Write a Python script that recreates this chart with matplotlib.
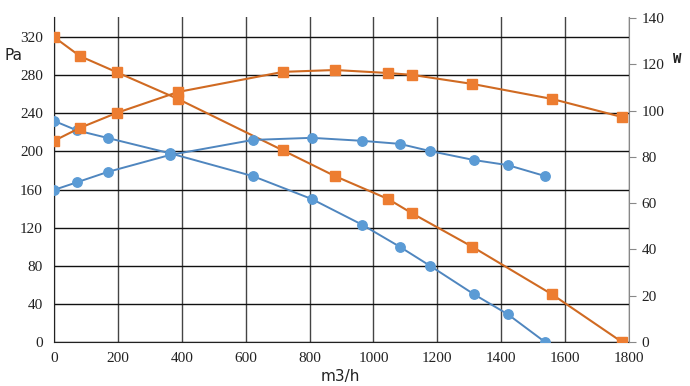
import matplotlib
matplotlib.use("Agg")
import matplotlib.pyplot as plt

# --- data ---
x_ticks = [0, 200, 400, 600, 800, 1000, 1200, 1400, 1600, 1800]
pa_ticks = [0, 40, 80, 120, 160, 200, 240, 280, 320]
w_ticks = [0, 20, 40, 60, 80, 100, 120, 140]

# blue fan: pressure (Pa)
blue_p_x = [0, 72, 169, 363, 623, 807, 965, 1082, 1177, 1315, 1421, 1537]
blue_p_y = [232, 222, 214, 198, 174, 150, 123, 100, 80, 50, 29, 0]
# blue fan: power (W)
blue_w_x = [0, 72, 169, 363, 623, 807, 965, 1082, 1177, 1315, 1421, 1537]
blue_w_y = [65.7, 69, 73.5, 80.8, 87.3, 88.2, 86.9, 85.6, 82.5, 78.6, 76.4, 71.7]

# orange fan: pressure (Pa)
orange_p_x = [0, 81, 197, 388, 717, 880, 1046, 1121, 1309, 1559, 1778]
orange_p_y = [320, 300, 283, 255, 201, 174, 150, 135, 100, 50, 0]
# orange fan: power (W)
orange_w_x = [0, 81, 197, 388, 717, 880, 1046, 1121, 1309, 1559, 1778]
orange_w_y = [86.9, 92.5, 99, 108, 116.7, 117.5, 116.2, 115.4, 111.5, 105, 97.2]

BLUE = "#5B9BD5"
BLUE_LINE = "#4F86BF"
ORANGE = "#ED7D31"
ORANGE_LINE = "#D06A22"
TICKFONT = "Liberation Serif"

fig = plt.figure(figsize=(6.9, 3.86), dpi=100)
ax = fig.add_axes([54/690, 1-342/386, (629-54)/690, (342-17)/386])
ax2 = ax.twinx()

ax.set_xlim(0, 1800)
ax.set_ylim(0, 341)
ax2.set_ylim(0, 140.4)

ax.set_xticks(x_ticks)
ax.set_yticks(pa_ticks)
ax2.set_yticks(w_ticks)

ax.grid(True, axis="y", color="#111111", linewidth=1.0)
ax.grid(True, axis="x", color="#444444", linewidth=1.0)
ax.set_axisbelow(True)

for s in ["top"]:
    ax.spines[s].set_visible(False)
    ax2.spines[s].set_visible(False)
ax.spines["left"].set_color("#222222")
ax.spines["bottom"].set_color("#222222")
ax.spines["right"].set_visible(False)
ax2.spines["left"].set_visible(False)
ax2.spines["bottom"].set_visible(False)
ax2.spines["right"].set_color("#888888")

ax.tick_params(axis="both", length=0, labelsize=11, colors="#222222")
ax.tick_params(axis="y", pad=8)
ax.tick_params(axis="x", pad=7)
ax2.tick_params(axis="y", length=5, color="#888888", labelsize=11, labelcolor="#222222", pad=4)
for lab in ax.get_xticklabels() + ax.get_yticklabels() + ax2.get_yticklabels():
    lab.set_fontfamily(TICKFONT)

ms = 6.8
ax.plot(blue_p_x, blue_p_y, color=BLUE_LINE, lw=1.4, marker="o", ms=ms,
        mfc=BLUE, mec=BLUE, zorder=3)
ax.plot(orange_p_x, orange_p_y, color=ORANGE_LINE, lw=1.5, marker="s", ms=ms,
        mfc=ORANGE, mec=ORANGE, zorder=3)
ax2.plot(blue_w_x, blue_w_y, color=BLUE_LINE, lw=1.4, marker="o", ms=ms,
         mfc=BLUE, mec=BLUE, zorder=3)
ax2.plot(orange_w_x, orange_w_y, color=ORANGE_LINE, lw=1.5, marker="s", ms=ms,
         mfc=ORANGE, mec=ORANGE, zorder=3)

fig.text(14/690, 1-56/386, "Pa", ha="center", va="center", fontsize=11,
         family="DejaVu Sans", color="#222222")
fig.text(677/690, 1-59/386, "W", ha="center", va="center", fontsize=10,
         family="DejaVu Sans Mono", fontweight="bold", color="#222222")
fig.text(340/690, 1-377/386, "m3/h", ha="center", va="center", fontsize=11,
         family="DejaVu Sans", color="#222222")

fig.savefig("out.png", dpi=100)
